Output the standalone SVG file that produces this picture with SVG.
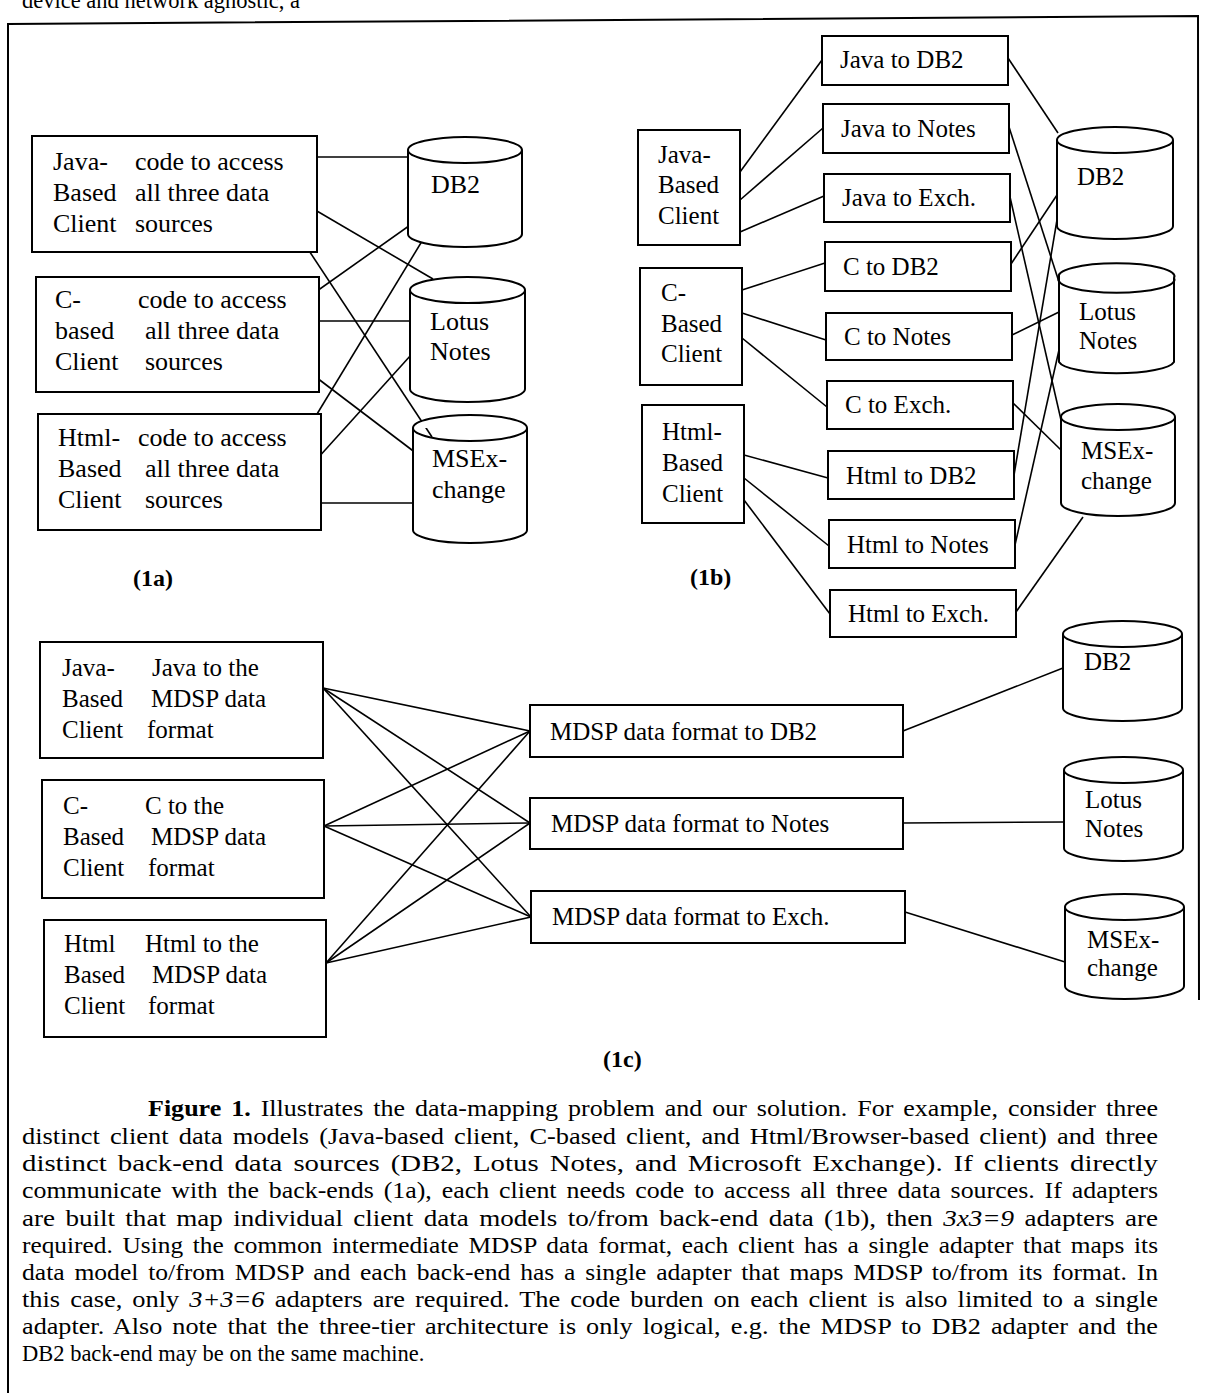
<svg xmlns="http://www.w3.org/2000/svg" width="1208" height="1393" viewBox="0 0 1208 1393">
<style>
.box{fill:#fff;stroke:#000;stroke-width:2}
.cyl{fill:#fff;stroke:#000;stroke-width:2}
text{font-family:"Liberation Serif","Times New Roman",serif;fill:#000}
.t{font-size:25px}
.a{font-size:26px}
.lbl{font-size:24px;font-weight:bold}
.cap{font-size:22.5px;word-spacing:3px}
.conn line{stroke:#000;stroke-width:1.6}
.frame{fill:none;stroke:#000;stroke-width:2}
</style>
<rect width="1208" height="1393" fill="#fff"/>
<text class="cap" x="22" y="8" style="word-spacing:0">device and network agnostic, a</text>
<path class="frame" d="M8,1393 L8,24 L1198,16 L1199,1000"/>

<g id="conn">
<g class="conn">
<!-- 1a -->
<line x1="293" y1="157" x2="408" y2="157"/>
<line x1="293" y1="197" x2="433" y2="279"/>
<line x1="296" y1="231" x2="432" y2="437"/>
<line x1="293" y1="308" x2="430" y2="211"/>
<line x1="295" y1="321" x2="410" y2="321"/>
<line x1="296" y1="362" x2="433" y2="466"/>
<line x1="297" y1="447" x2="430" y2="228"/>
<line x1="298" y1="480" x2="411" y2="355"/>
<line x1="298" y1="503" x2="413" y2="503"/>
<!-- 1b left -->
<line x1="740" y1="172" x2="822" y2="60"/>
<line x1="740" y1="200" x2="823" y2="128"/>
<line x1="740" y1="232" x2="824" y2="196"/>
<line x1="742" y1="290" x2="825" y2="263"/>
<line x1="742" y1="313" x2="826" y2="340"/>
<line x1="742" y1="338" x2="827" y2="407"/>
<line x1="744" y1="455" x2="828" y2="478"/>
<line x1="744" y1="478" x2="829" y2="546"/>
<line x1="744" y1="500" x2="830" y2="614"/>
<!-- 1b right -->
<line x1="1008" y1="58" x2="1058" y2="133"/>
<line x1="1009" y1="127" x2="1059" y2="282"/>
<line x1="1010" y1="197" x2="1061" y2="420"/>
<line x1="1011" y1="264" x2="1057" y2="195"/>
<line x1="1012" y1="335" x2="1059" y2="312"/>
<line x1="1013" y1="403" x2="1061" y2="450"/>
<line x1="1014" y1="475" x2="1058" y2="214"/>
<line x1="1015" y1="545" x2="1059" y2="350"/>
<line x1="1016" y1="612" x2="1083" y2="517"/>
<!-- 1c -->
<line x1="323" y1="688" x2="530" y2="731"/>
<line x1="323" y1="688" x2="530" y2="823"/>
<line x1="323" y1="688" x2="531" y2="917"/>
<line x1="324" y1="826" x2="530" y2="731"/>
<line x1="324" y1="826" x2="530" y2="823"/>
<line x1="324" y1="826" x2="531" y2="917"/>
<line x1="326" y1="963" x2="530" y2="731"/>
<line x1="326" y1="963" x2="530" y2="823"/>
<line x1="326" y1="963" x2="531" y2="917"/>
<line x1="903" y1="731" x2="1063" y2="668"/>
<line x1="903" y1="823" x2="1064" y2="822"/>
<line x1="905" y1="912" x2="1065" y2="962"/>
</g>
</g>

<!-- 1a nodes -->
<g id="a-java">
<rect class="box" x="32" y="136" width="285" height="116"/>
<text class="a" x="53" y="170">Java-</text><text class="a" x="135" y="170">code to access</text>
<text class="a" x="53" y="201">Based</text><text class="a" x="135" y="201">all three data</text>
<text class="a" x="53" y="232">Client</text><text class="a" x="135" y="232">sources</text>
</g>
<g id="a-c">
<rect class="box" x="36" y="277" width="283" height="115"/>
<text class="a" x="55" y="308">C-</text><text class="a" x="138" y="308">code to access</text>
<text class="a" x="55" y="339">based</text><text class="a" x="145" y="339">all three data</text>
<text class="a" x="55" y="370">Client</text><text class="a" x="145" y="370">sources</text>
</g>
<g id="a-html">
<rect class="box" x="38" y="414" width="283" height="116"/>
<text class="a" x="58" y="446">Html-</text><text class="a" x="138" y="446">code to access</text>
<text class="a" x="58" y="477">Based</text><text class="a" x="145" y="477">all three data</text>
<text class="a" x="58" y="508">Client</text><text class="a" x="145" y="508">sources</text>
</g>
<g id="a-db2">
<path class="cyl" d="M408,150 A57,13 0 1 1 522,150 A57,13 0 1 1 408,150 V234 A57,13 0 0 0 522,234 V150"/>
<text class="a" x="431" y="193">DB2</text>
</g>
<g id="a-lotus">
<path class="cyl" d="M410,290 A57,13 0 1 1 525,290 A57,13 0 1 1 410,290 V389 A57,13 0 0 0 525,389 V290"/>
<text class="a" x="430" y="330">Lotus</text>
<text class="a" x="430" y="360">Notes</text>
</g>
<g id="a-msex">
<path class="cyl" d="M413,428 A57,13 0 1 1 527,428 A57,13 0 1 1 413,428 V530 A57,13 0 0 0 527,530 V428"/>
<text class="a" x="432" y="467">MSEx-</text>
<text class="a" x="432" y="498">change</text>
</g>
<text class="lbl" x="133" y="586">(1a)</text>

<!-- 1b nodes -->
<g id="b-java">
<rect class="box" x="638" y="130" width="102" height="115"/>
<text class="t" x="658" y="163">Java-</text>
<text class="t" x="658" y="193">Based</text>
<text class="t" x="658" y="224">Client</text>
</g>
<g id="b-c">
<rect class="box" x="640" y="268" width="102" height="117"/>
<text class="t" x="661" y="301">C-</text>
<text class="t" x="661" y="332">Based</text>
<text class="t" x="661" y="362">Client</text>
</g>
<g id="b-html">
<rect class="box" x="642" y="405" width="102" height="118"/>
<text class="t" x="662" y="440">Html-</text>
<text class="t" x="662" y="471">Based</text>
<text class="t" x="662" y="502">Client</text>
</g>
<g id="b-j-db2"><rect class="box" x="822" y="36" width="186" height="49"/><text class="t" x="840" y="68">Java to DB2</text></g>
<g id="b-j-notes"><rect class="box" x="823" y="104" width="186" height="49"/><text class="t" x="841" y="137">Java to Notes</text></g>
<g id="b-j-exch"><rect class="box" x="824" y="174" width="186" height="48"/><text class="t" x="842" y="206">Java to Exch.</text></g>
<g id="b-c-db2"><rect class="box" x="825" y="242" width="186" height="49"/><text class="t" x="843" y="275">C to DB2</text></g>
<g id="b-c-notes"><rect class="box" x="826" y="313" width="186" height="47"/><text class="t" x="844" y="345">C to Notes</text></g>
<g id="b-c-exch"><rect class="box" x="827" y="381" width="186" height="48"/><text class="t" x="845" y="413">C to Exch.</text></g>
<g id="b-h-db2"><rect class="box" x="828" y="451" width="186" height="48"/><text class="t" x="846" y="484">Html to DB2</text></g>
<g id="b-h-notes"><rect class="box" x="829" y="520" width="186" height="48"/><text class="t" x="847" y="553">Html to Notes</text></g>
<g id="b-h-exch"><rect class="box" x="830" y="590" width="186" height="47"/><text class="t" x="848" y="622">Html to Exch.</text></g>
<g id="b-db2">
<path class="cyl" d="M1057,140 A58,13 0 1 1 1173,140 A58,13 0 1 1 1057,140 V226 A58,13 0 0 0 1173,226 V140"/>
<text class="t" x="1077" y="185">DB2</text>
</g>
<g id="b-lotus">
<path class="cyl" d="M1059,278 A58,13 0 1 1 1174,278 A58,13 0 1 1 1059,278 V362 A58,13 0 0 0 1174,362 V278"/>
<text class="t" x="1079" y="320">Lotus</text>
<text class="t" x="1079" y="349">Notes</text>
</g>
<g id="b-msex">
<path class="cyl" d="M1061,417 A57,13 0 1 1 1175,417 A57,13 0 1 1 1061,417 V503 A57,13 0 0 0 1175,503 V417"/>
<text class="t" x="1081" y="459">MSEx-</text>
<text class="t" x="1081" y="489">change</text>
</g>
<text class="lbl" x="690" y="585">(1b)</text>

<!-- 1c nodes -->
<g id="c-java">
<rect class="box" x="40" y="642" width="283" height="116"/>
<text class="t" x="62" y="676">Java-</text><text class="t" x="152" y="676">Java to the</text>
<text class="t" x="62" y="707">Based</text><text class="t" x="151" y="707">MDSP data</text>
<text class="t" x="62" y="738">Client</text><text class="t" x="147" y="738">format</text>
</g>
<g id="c-c">
<rect class="box" x="42" y="780" width="282" height="118"/>
<text class="t" x="63" y="814">C-</text><text class="t" x="145" y="814">C to the</text>
<text class="t" x="63" y="845">Based</text><text class="t" x="151" y="845">MDSP data</text>
<text class="t" x="63" y="876">Client</text><text class="t" x="148" y="876">format</text>
</g>
<g id="c-html">
<rect class="box" x="44" y="920" width="282" height="117"/>
<text class="t" x="64" y="952">Html</text><text class="t" x="145" y="952">Html to the</text>
<text class="t" x="64" y="983">Based</text><text class="t" x="152" y="983">MDSP data</text>
<text class="t" x="64" y="1014">Client</text><text class="t" x="148" y="1014">format</text>
</g>
<g id="c-m-db2"><rect class="box" x="530" y="705" width="373" height="52"/><text class="t" x="550" y="740">MDSP data format to DB2</text></g>
<g id="c-m-notes"><rect class="box" x="530" y="798" width="373" height="51"/><text class="t" x="551" y="832">MDSP data format to Notes</text></g>
<g id="c-m-exch"><rect class="box" x="531" y="891" width="374" height="52"/><text class="t" x="552" y="925">MDSP data format to Exch.</text></g>
<g id="c-db2">
<path class="cyl" d="M1063,634 A59.5,13 0 1 1 1182,634 A59.5,13 0 1 1 1063,634 V708 A59.5,13 0 0 0 1182,708 V634"/>
<text class="t" x="1084" y="670">DB2</text>
</g>
<g id="c-lotus">
<path class="cyl" d="M1064,770 A59.5,13 0 1 1 1183,770 A59.5,13 0 1 1 1064,770 V848 A59.5,13 0 0 0 1183,848 V770"/>
<text class="t" x="1085" y="808">Lotus</text>
<text class="t" x="1085" y="837">Notes</text>
</g>
<g id="c-msex">
<path class="cyl" d="M1065,907 A59.5,13 0 1 1 1184,907 A59.5,13 0 1 1 1065,907 V986 A59.5,13 0 0 0 1184,986 V907"/>
<text class="t" x="1087" y="948">MSEx-</text>
<text class="t" x="1087" y="976">change</text>
</g>
<text class="lbl" x="603" y="1067">(1c)</text>

<!-- caption -->
<g id="caption">
<text class="cap" x="148" y="1116" textLength="1010" lengthAdjust="spacingAndGlyphs"><tspan font-weight="bold">Figure 1.</tspan> Illustrates the data-mapping problem and our solution. For example, consider three</text>
<text class="cap" x="22" y="1144" textLength="1136" lengthAdjust="spacingAndGlyphs">distinct client data models (Java-based client, C-based client, and Html/Browser-based client) and three</text>
<text class="cap" x="22" y="1171" textLength="1136" lengthAdjust="spacingAndGlyphs">distinct back-end data sources (DB2, Lotus Notes, and Microsoft Exchange). If clients directly</text>
<text class="cap" x="22" y="1198" textLength="1136" lengthAdjust="spacingAndGlyphs">communicate with the back-ends (1a), each client needs code to access all three data sources. If adapters</text>
<text class="cap" x="22" y="1226" textLength="1136" lengthAdjust="spacingAndGlyphs">are built that map individual client data models to/from back-end data (1b), then <tspan font-style="italic">3x3=9</tspan> adapters are</text>
<text class="cap" x="22" y="1253" textLength="1136" lengthAdjust="spacingAndGlyphs">required. Using the common intermediate MDSP data format, each client has a single adapter that maps its</text>
<text class="cap" x="22" y="1280" textLength="1136" lengthAdjust="spacingAndGlyphs">data model to/from MDSP and each back-end has a single adapter that maps MDSP to/from its format. In</text>
<text class="cap" x="22" y="1307" textLength="1136" lengthAdjust="spacingAndGlyphs">this case, only <tspan font-style="italic">3+3=6</tspan>  adapters are required. The code burden on each client is also limited to a single</text>
<text class="cap" x="22" y="1334" textLength="1136" lengthAdjust="spacingAndGlyphs">adapter. Also note that the three-tier architecture is only logical, e.g. the MDSP to DB2 adapter and the</text>
<text class="cap" x="22" y="1361" style="word-spacing:0">DB2 back-end may be on the same machine.</text>
</g>
</svg>
